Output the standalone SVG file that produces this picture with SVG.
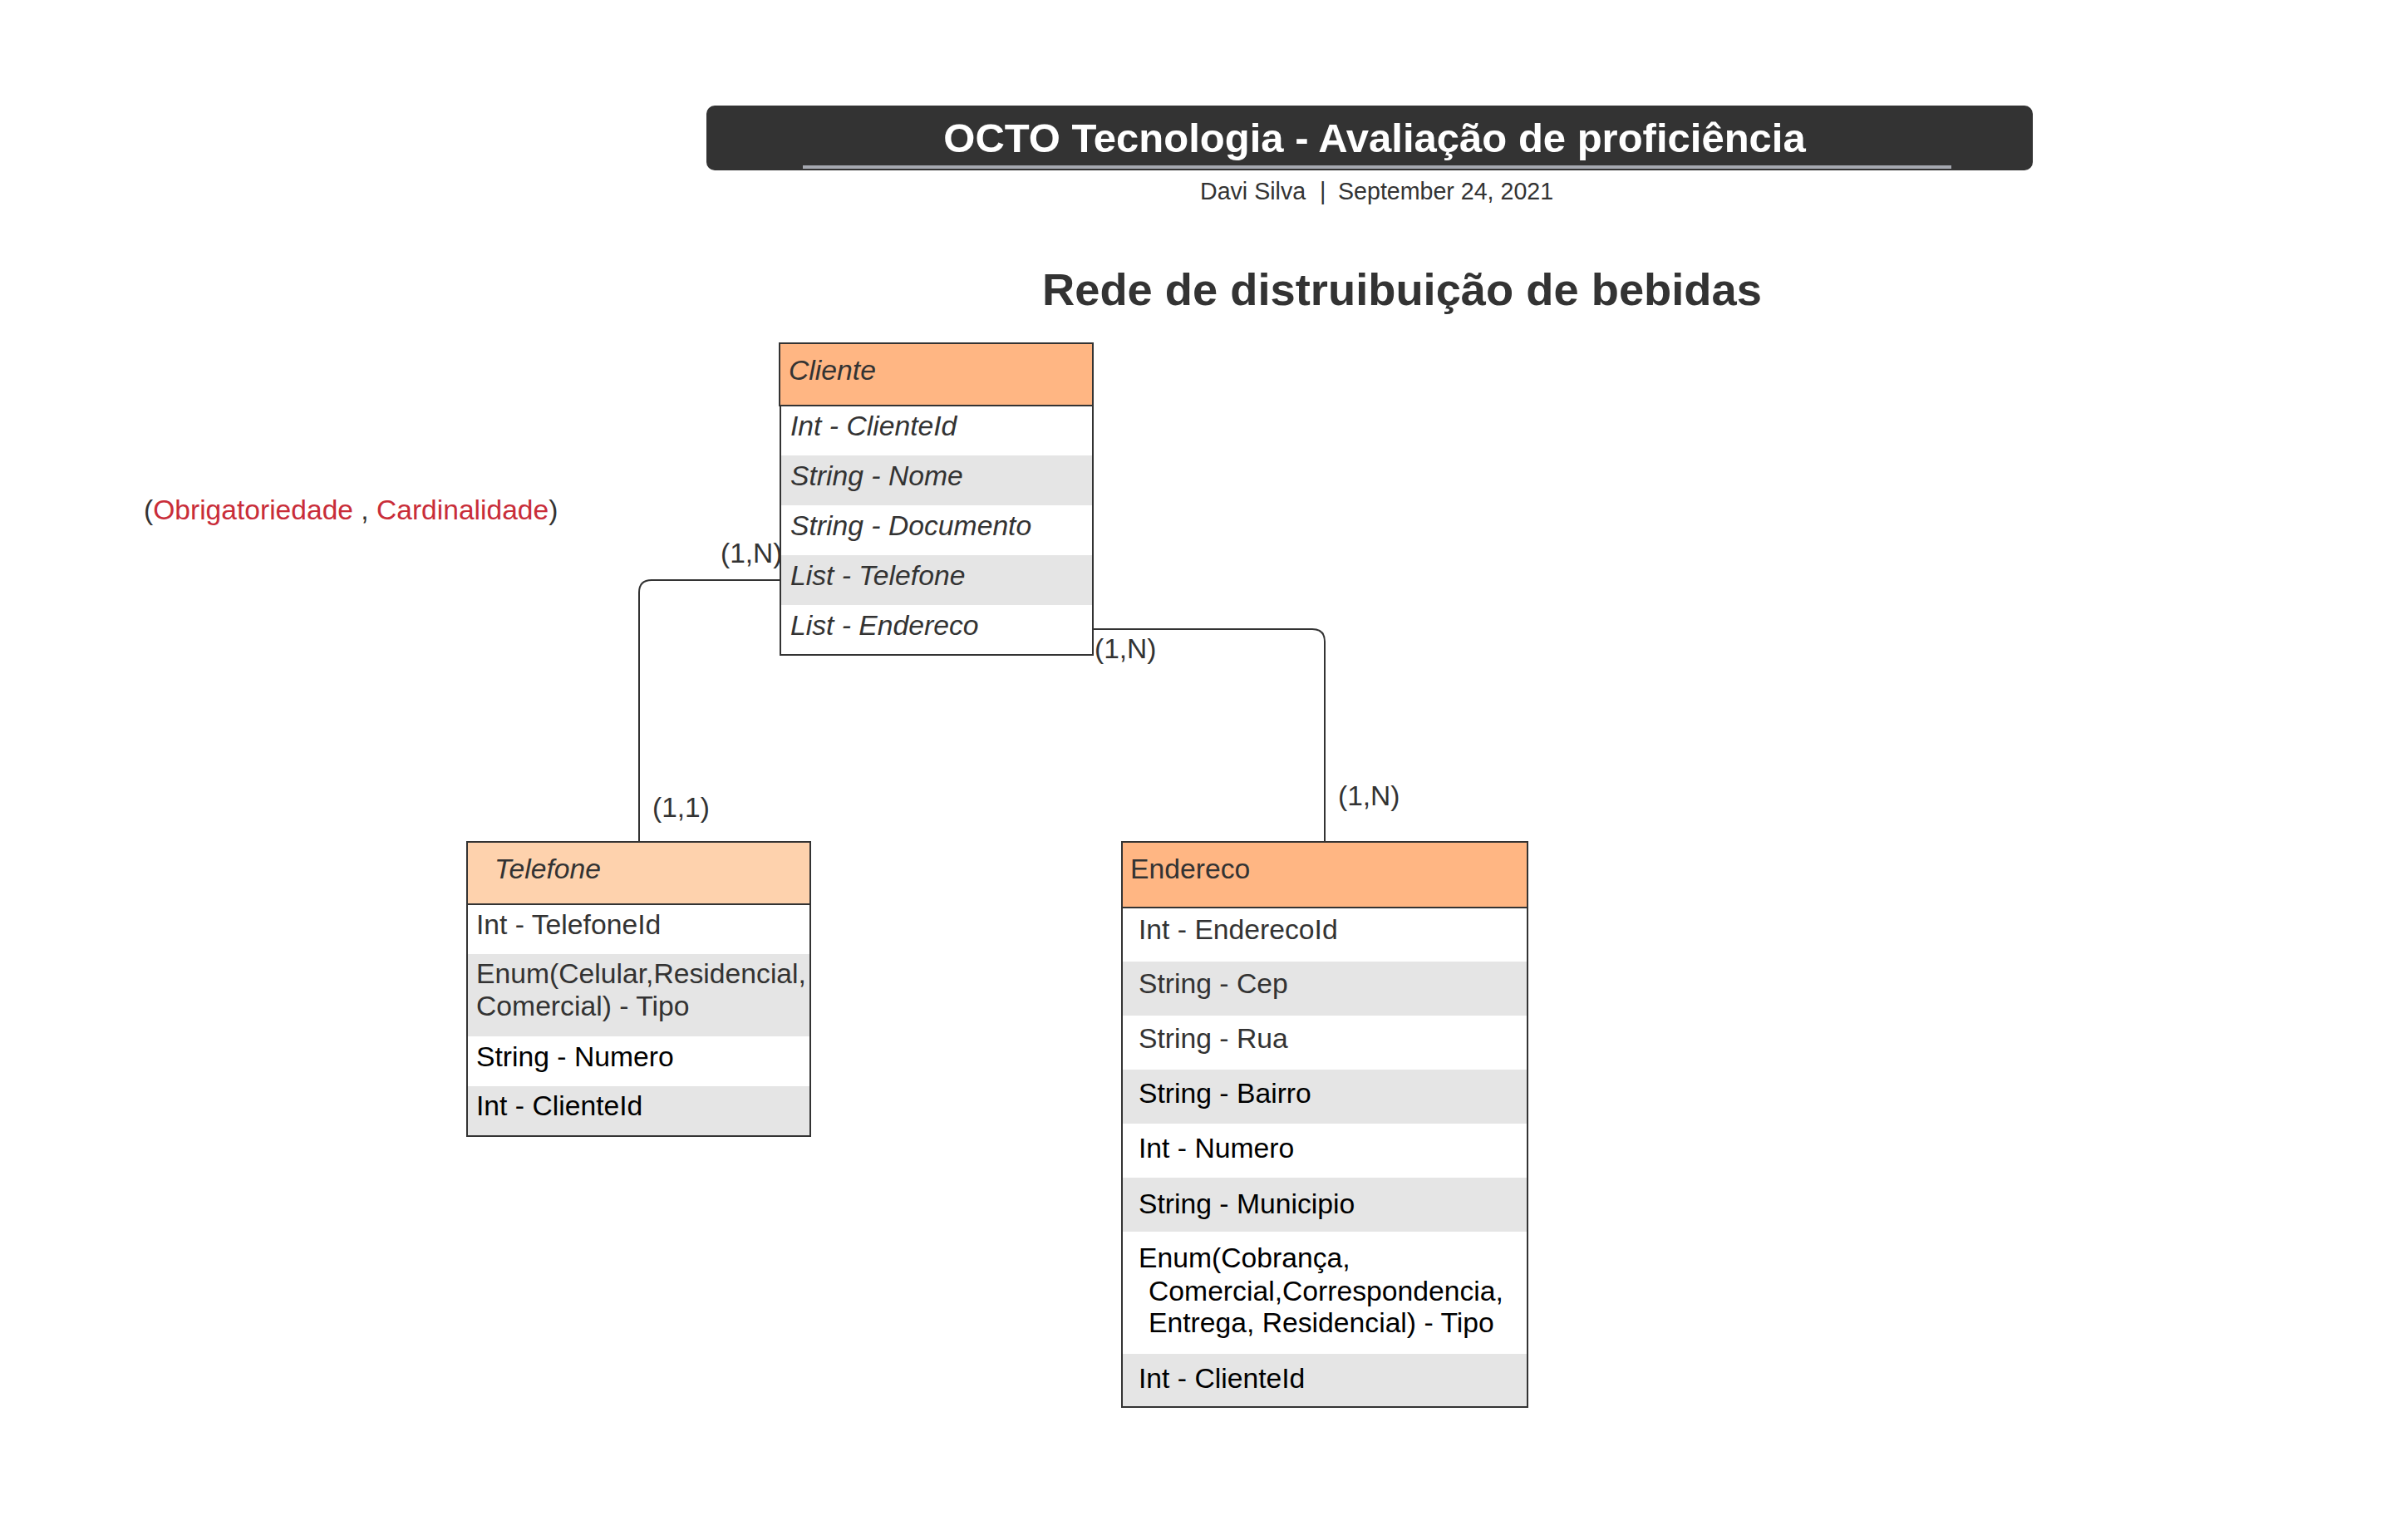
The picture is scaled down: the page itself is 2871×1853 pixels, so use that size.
<svg xmlns="http://www.w3.org/2000/svg" width="2871" height="1853" viewBox="0 0 2871 1853">
<style>
text{font-family:"Liberation Sans",Arial,sans-serif;}
.hdr{stroke:#333;stroke-width:2;}
.row{stroke:none;}
.w{fill:#fff;}
.g{fill:#e5e5e5;}
.box{fill:none;stroke:#333;stroke-width:2;}
.t{font-size:33.7px;fill:#333;}
.tb{font-size:33.7px;fill:#000;}
.i{font-style:italic;}
.lbl{font-size:33.5px;fill:#333;}
.conn{fill:none;stroke:#333;stroke-width:2;}
</style>
<rect width="2871" height="1853" fill="#fff"/>
<g id="title">
<rect x="850" y="127" width="1596" height="78" rx="10" fill="#333"/>
<rect x="966" y="199" width="1382" height="4" fill="#a5a8b0"/>
<text x="1654" y="183" text-anchor="middle" font-size="49" font-weight="bold" fill="#fff">OCTO Tecnologia - Avaliação de proficiência</text>
<text y="240" font-size="28.6" fill="#333"><tspan x="1444">Davi Silva</tspan><tspan x="1588">|</tspan><tspan x="1610">September 24, 2021</tspan></text>
</g>
<g id="heading">
<text x="1254" y="367" font-size="54.3" font-weight="bold" fill="#333">Rede de distruibuição de bebidas</text>
</g>
<g id="legend">
<text x="173" y="625" font-size="33.6" fill="#333">(<tspan fill="#c92d39">Obrigatoriedade</tspan> , <tspan fill="#c92d39">Cardinalidade</tspan>)</text>
</g>
<g id="connectors">
<path class="conn" d="M939 698 H784 Q769 698 769 713 V1013"/>
<path class="conn" d="M1315 757 H1579 Q1594 757 1594 772 V1013"/>
<text class="lbl" x="867" y="677">(1,N)</text>
<text class="lbl" x="785" y="983">(1,1)</text>
<text class="lbl" x="1317" y="792">(1,N)</text>
<text class="lbl" x="1610" y="969">(1,N)</text>
</g>
<g id="cliente">
<rect class="hdr" x="938" y="413" width="377" height="75" fill="#ffb683"/>
<rect class="row w" x="939" y="488" width="376" height="60"/>
<rect class="row g" x="939" y="548" width="376" height="60"/>
<rect class="row w" x="939" y="608" width="376" height="60"/>
<rect class="row g" x="939" y="668" width="376" height="60"/>
<rect class="row w" x="939" y="728" width="376" height="60"/>
<rect class="box" x="939" y="488" width="376" height="300"/>
<text class="t i" x="949" y="457">Cliente</text>
<text class="t i" x="951" y="524">Int - ClienteId</text>
<text class="t i" x="951" y="584">String - Nome</text>
<text class="t i" x="951" y="644">String - Documento</text>
<text class="t i" x="951" y="704">List - Telefone</text>
<text class="t i" x="951" y="764">List - Endereco</text>
</g>
<g id="telefone">
<rect class="hdr" x="562" y="1013" width="413" height="75" fill="#fed2ad"/>
<rect class="row w" x="562" y="1088" width="413" height="60"/>
<rect class="row g" x="562" y="1148" width="413" height="99"/>
<rect class="row w" x="562" y="1247" width="413" height="60"/>
<rect class="row g" x="562" y="1307" width="413" height="60"/>
<rect class="box" x="562" y="1088" width="413" height="279"/>
<text class="t i" x="595" y="1057">Telefone</text>
<text class="t" x="573" y="1124">Int - TelefoneId</text>
<text class="t" x="573" y="1183">Enum(Celular,Residencial,</text>
<text class="t" x="573" y="1222">Comercial) - Tipo</text>
<text class="tb" x="573" y="1283">String - Numero</text>
<text class="tb" x="573" y="1342">Int - ClienteId</text>
</g>
<g id="endereco">
<rect class="hdr" x="1350" y="1013" width="488" height="79" fill="#ffb683"/>
<rect class="row w" x="1350" y="1092" width="488" height="65"/>
<rect class="row g" x="1350" y="1157" width="488" height="65"/>
<rect class="row w" x="1350" y="1222" width="488" height="65"/>
<rect class="row g" x="1350" y="1287" width="488" height="65"/>
<rect class="row w" x="1350" y="1352" width="488" height="65"/>
<rect class="row g" x="1350" y="1417" width="488" height="65"/>
<rect class="row w" x="1350" y="1482" width="488" height="147"/>
<rect class="row g" x="1350" y="1629" width="488" height="64"/>
<rect class="box" x="1350" y="1092" width="488" height="601"/>
<text class="t" x="1360" y="1057">Endereco</text>
<text class="t" x="1370" y="1130">Int - EnderecoId</text>
<text class="t" x="1370" y="1195">String - Cep</text>
<text class="t" x="1370" y="1261">String - Rua</text>
<text class="tb" x="1370" y="1327">String - Bairro</text>
<text class="tb" x="1370" y="1393">Int - Numero</text>
<text class="tb" x="1370" y="1460">String - Municipio</text>
<text class="tb" x="1370" y="1525">Enum(Cobrança,</text>
<text class="tb" x="1382" y="1565">Comercial,Correspondencia,</text>
<text class="tb" x="1382" y="1603">Entrega, Residencial) - Tipo</text>
<text class="tb" x="1370" y="1670">Int - ClienteId</text>
</g>
</svg>
